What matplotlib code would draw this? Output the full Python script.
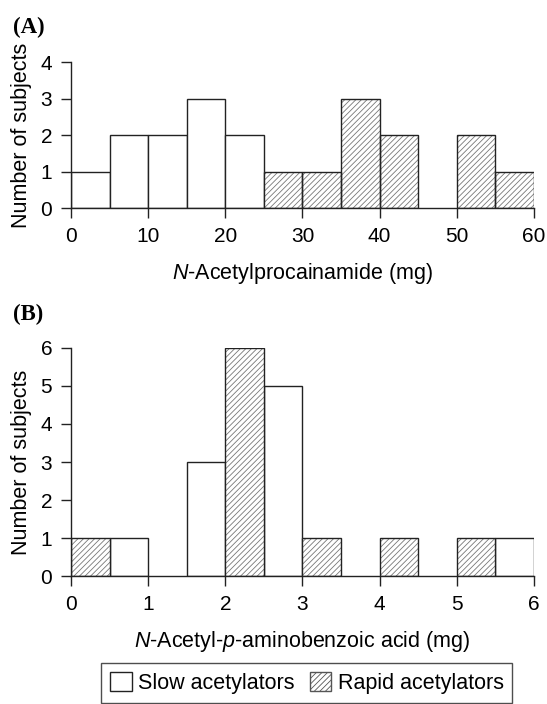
import matplotlib.pyplot as plt
from matplotlib.patches import Patch

plt.rcParams['font.family'] = ['Liberation Sans', 'DejaVu Sans']
plt.rcParams['hatch.linewidth'] = 0.6
plt.rcParams['mathtext.fontset'] = 'custom'
plt.rcParams['mathtext.it'] = 'Liberation Sans:italic'
plt.rcParams['mathtext.rm'] = 'Liberation Sans'

# panel A: N-acetylprocainamide, bins of 5 mg
bins_a = [0, 5, 10, 15, 20, 25, 30, 35, 40, 45, 50, 55]
slow_a = [1, 2, 2, 3, 2, 0, 0, 0, 0, 0, 0, 0]
rapid_a = [0, 0, 0, 0, 0, 1, 1, 3, 2, 0, 2, 1]

# panel B: N-acetyl-p-aminobenzoic acid, bins of 0.5 mg
bins_b = [0, 0.5, 1, 1.5, 2, 2.5, 3, 3.5, 4, 4.5, 5, 5.5]
slow_b = [0, 1, 0, 3, 0, 5, 0, 0, 0, 0, 0, 1]
rapid_b = [1, 0, 0, 0, 6, 0, 1, 0, 1, 0, 1, 0]

edge = '#222222'
hatch_col = '#777777'

fig = plt.figure(figsize=(5.47, 7.04), dpi=100)
ax1 = fig.add_axes([0.1298, 0.7045, 0.8464, 0.2074])
ax2 = fig.add_axes([0.1298, 0.1818, 0.8464, 0.3239])


def draw(ax, bins, slow, rapid, width):
    s = [(b, v) for b, v in zip(bins, slow) if v > 0]
    r = [(b, v) for b, v in zip(bins, rapid) if v > 0]
    ax.bar([b for b, v in s], [v for b, v in s], width=width, align='edge',
           color='white', edgecolor=edge, linewidth=1.0, zorder=2)
    ax.bar([b for b, v in r], [v for b, v in r], width=width, align='edge',
           color='white', edgecolor=hatch_col, hatch='//////', linewidth=0, zorder=2)
    ax.bar([b for b, v in r], [v for b, v in r], width=width, align='edge',
           fill=False, edgecolor=edge, linewidth=1.0, zorder=3)
    for side in ['top', 'right']:
        ax.spines[side].set_visible(False)
    for side in ['left', 'bottom']:
        ax.spines[side].set_color(edge)
        ax.spines[side].set_linewidth(1.0)
        ax.spines[side].set_zorder(4)
    ax.tick_params(direction='out', length=7, width=1.0, color=edge,
                   labelsize=15, pad=6.5)
    ax.set_ylabel('Number of subjects', fontsize=15.5, labelpad=6)


draw(ax1, bins_a, slow_a, rapid_a, 5)
ax1.set_xlim(0, 60)
ax1.set_ylim(0, 4)
ax1.set_xticks([0, 10, 20, 30, 40, 50, 60])
ax1.set_yticks([0, 1, 2, 3, 4])
ax1.set_xlabel('$\\it{N}$-Acetylprocainamide (mg)', fontsize=15.5, labelpad=11)

draw(ax2, bins_b, slow_b, rapid_b, 0.5)
ax2.set_xlim(0, 6)
ax2.set_ylim(0, 6)
ax2.set_xticks([0, 1, 2, 3, 4, 5, 6])
ax2.set_yticks([0, 1, 2, 3, 4, 5, 6])
ax2.set_xlabel('$\\it{N}$-Acetyl-$\\it{p}$-aminobenzoic acid (mg)', fontsize=15.5, labelpad=11)

fig.text(0.024, 0.9616, '(A)', fontsize=16.5, fontweight='bold',
         family='Liberation Serif', va='center')
fig.text(0.024, 0.554, '(B)', fontsize=16.5, fontweight='bold',
         family='Liberation Serif', va='center')

handles = [Patch(facecolor='white', edgecolor=edge, linewidth=1.0),
           Patch(facecolor='white', edgecolor='#555555', hatch='//////', linewidth=1.0)]
leg = fig.legend(handles, ['Slow acetylators', 'Rapid acetylators'],
                 loc='center', bbox_to_anchor=(0.561, 0.0298), ncol=2,
                 fontsize=15.5, frameon=True, fancybox=False, edgecolor=edge,
                 handlelength=1.0, handleheight=1.0, handletextpad=0.3,
                 columnspacing=0.7, borderpad=0.4, borderaxespad=0)
leg.get_frame().set_linewidth(1.0)

fig.savefig('out.png', dpi=100)
